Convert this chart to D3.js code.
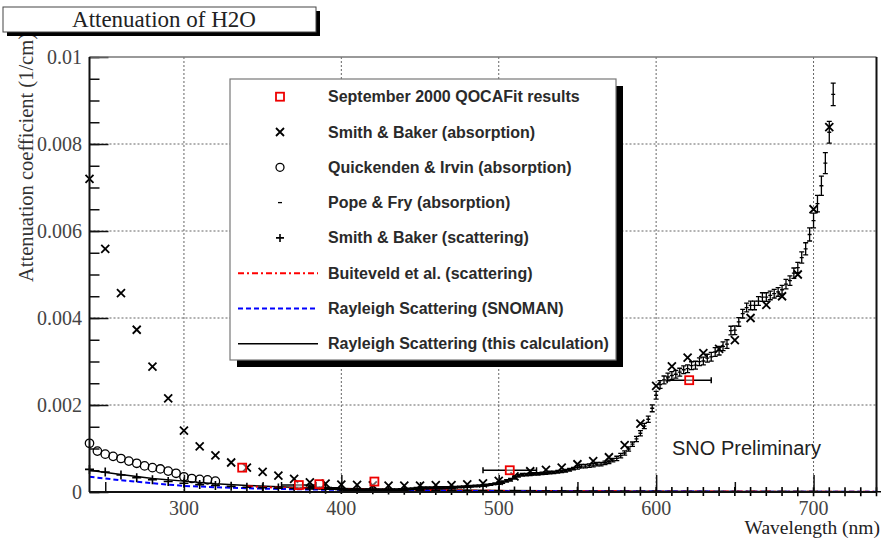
<!DOCTYPE html>
<html>
<head>
<meta charset="utf-8">
<script src="https://cdn.jsdelivr.net/npm/d3@7"></script>
<style>
  html, body { margin: 0; padding: 0; background: #fff; }
  svg { display: block; }
</style>
</head>
<body>
<svg id="chart" width="882" height="541"></svg>
<script>
// ---- data (attenuation in 1/cm, wavelength in nm) ----
const xTicks = [300, 400, 500, 600, 700];
const yTicks = [0, 0.002, 0.004, 0.006, 0.008, 0.01];
const yTickLabels = ["0", "0.002", "0.004", "0.006", "0.008", "0.01"];

// QOCAFit results: [wavelength, value, half-width in nm]
const qocaFit = [
  [337, 0.00056, 0], [373, 0.00016, 11], [386, 0.00018, 0],
  [421, 0.00024, 0], [507, 0.00050, 17], [621, 0.00257, 14]
];

// Smith & Baker absorption: [wavelength, value]
const smithBakerAbs = [
  [240, 0.00720], [250, 0.00559], [260, 0.00457], [270, 0.00373], [280, 0.00288],
  [290, 0.00215], [300, 0.00141], [310, 0.00105], [320, 0.000844], [330, 0.000678],
  [340, 0.000561], [350, 0.000463], [360, 0.000379], [370, 0.000300], [380, 0.000220],
  [390, 0.000191], [400, 0.000171], [410, 0.000162], [420, 0.000153], [430, 0.000144],
  [440, 0.000145], [450, 0.000145], [460, 0.000156], [470, 0.000156], [480, 0.000176],
  [490, 0.000196], [500, 0.000257], [510, 0.000357], [520, 0.000477], [530, 0.000507],
  [540, 0.000558], [550, 0.000638], [560, 0.000708], [570, 0.000799], [580, 0.00108],
  [590, 0.00157], [600, 0.00244], [610, 0.00289], [620, 0.00309], [630, 0.00319],
  [640, 0.00329], [650, 0.00349], [660, 0.00400], [670, 0.00430], [680, 0.00450],
  [690, 0.00500], [700, 0.00650], [710, 0.00839]
];

// Quickenden & Irvin absorption: [wavelength, value]
const quickendenIrvin = [
  [240, 0.00112], [245, 0.00094], [250, 0.00087], [255, 0.00082], [260, 0.00077],
  [265, 0.00071], [270, 0.00066], [275, 0.00060], [280, 0.00056], [285, 0.00053],
  [290, 0.00048], [295, 0.00043], [300, 0.00035], [305, 0.00031], [310, 0.00029],
  [315, 0.00028], [320, 0.00025]
];

// Pope & Fry absorption: [wavelength, value, error]
const popeFry = [
  [380, 0.000114, 0.00002], [382.5, 0.000104, 0.00002], [385, 0.000094, 0.00002], [387.5, 0.000092, 0.00002],
  [390, 0.000085, 0.00002], [392.5, 0.000083, 0.00002], [395, 0.000081, 0.00002], [397.5, 0.000078, 0.00002],
  [400, 0.000066, 0.00002], [402.5, 0.000058, 0.00002], [405, 0.000053, 0.00002], [407.5, 0.000050, 0.00002],
  [410, 0.000047, 0.00002], [412.5, 0.000045, 0.00002], [415, 0.000044, 0.00002], [417.5, 0.000044, 0.00002],
  [420, 0.000045, 0.00002], [422.5, 0.000047, 0.00002], [425, 0.000048, 0.00002], [427.5, 0.000048, 0.00002],
  [430, 0.000050, 0.00002], [432.5, 0.000050, 0.00002], [435, 0.000053, 0.00002], [437.5, 0.000058, 0.00002],
  [440, 0.000064, 0.00002], [442.5, 0.000070, 0.00002], [445, 0.000075, 0.00002], [447.5, 0.000083, 0.00002],
  [450, 0.000092, 0.00002], [452.5, 0.000097, 0.00002], [455, 0.000096, 0.00002], [457.5, 0.000096, 0.00002],
  [460, 0.000098, 0.00002], [462.5, 0.000101, 0.00002], [465, 0.000101, 0.00002], [467.5, 0.000102, 0.00002],
  [470, 0.000106, 0.00002], [472.5, 0.000109, 0.00002], [475, 0.000114, 0.00002], [477.5, 0.000121, 0.00002],
  [480, 0.000127, 0.00002], [482.5, 0.000131, 0.00002], [485, 0.000136, 0.00002], [487.5, 0.000144, 0.00002],
  [490, 0.000150, 0.00002], [492.5, 0.000162, 0.00002], [495, 0.000173, 0.00002], [497.5, 0.000191, 0.00002],
  [500, 0.000204, 0.00003], [502.5, 0.000228, 0.00003], [505, 0.000256, 0.00003], [507.5, 0.000280, 0.00003],
  [510, 0.000325, 0.00003], [512.5, 0.000372, 0.00003], [515, 0.000396, 0.00003], [517.5, 0.000399, 0.00003],
  [520, 0.000409, 0.00003], [522.5, 0.000416, 0.00003], [525, 0.000417, 0.00003], [527.5, 0.000428, 0.00003],
  [530, 0.000434, 0.00003], [532.5, 0.000447, 0.00003], [535, 0.000452, 0.00003], [537.5, 0.000466, 0.00003],
  [540, 0.000474, 0.00003], [542.5, 0.000489, 0.00003], [545, 0.000511, 0.00003], [547.5, 0.000537, 0.00003],
  [550, 0.000565, 0.00004], [552.5, 0.000593, 0.00004], [555, 0.000596, 0.00004], [557.5, 0.000606, 0.00004],
  [560, 0.000619, 0.00004], [562.5, 0.000640, 0.00004], [565, 0.000642, 0.00004], [567.5, 0.000672, 0.00004],
  [570, 0.000695, 0.00004], [572.5, 0.000733, 0.00004], [575, 0.000772, 0.00005], [577.5, 0.000836, 0.00005],
  [580, 0.000896, 0.00005], [582.5, 0.000989, 0.00005], [585, 0.001100, 0.00005], [587.5, 0.001220, 0.00006],
  [590, 0.001351, 0.00006], [592.5, 0.001516, 0.00006], [595, 0.001672, 0.00007], [597.5, 0.001925, 0.00008],
  [600, 0.002224, 0.00009], [602.5, 0.002470, 0.00009], [605, 0.002577, 0.00009], [607.5, 0.002644, 0.00009],
  [610, 0.002678, 0.00009], [612.5, 0.002707, 0.00009], [615, 0.002755, 0.00009], [617.5, 0.002810, 0.00009],
  [620, 0.002834, 0.00009], [622.5, 0.002904, 0.00009], [625, 0.002916, 0.00009], [627.5, 0.002995, 0.00009],
  [630, 0.003012, 0.00009], [632.5, 0.003077, 0.00009], [635, 0.003108, 0.00010], [637.5, 0.003220, 0.00010],
  [640, 0.003250, 0.00010], [642.5, 0.003350, 0.00010], [645, 0.003400, 0.00010], [647.5, 0.003710, 0.00010],
  [650, 0.003720, 0.00010], [652.5, 0.003910, 0.00010], [655, 0.004100, 0.00010], [657.5, 0.004240, 0.00010],
  [660, 0.004290, 0.00010], [662.5, 0.004290, 0.00010], [665, 0.004390, 0.00010], [667.5, 0.004480, 0.00010],
  [670, 0.004480, 0.00010], [672.5, 0.004520, 0.00010], [675, 0.004560, 0.00010], [677.5, 0.004600, 0.00010],
  [680, 0.004650, 0.00010], [682.5, 0.004780, 0.00011], [685, 0.004860, 0.00011], [687.5, 0.005030, 0.00012],
  [690, 0.005160, 0.00012], [692.5, 0.005390, 0.00013], [695, 0.005590, 0.00014], [697.5, 0.005920, 0.00015],
  [700, 0.006240, 0.00017], [702.5, 0.006630, 0.00019], [705, 0.007040, 0.00022], [707.5, 0.007560, 0.00024],
  [710, 0.008270, 0.00025], [712.5, 0.009140, 0.00026]
];

// Smith & Baker scattering: [wavelength, value]
const smithBakerScat = [
  [240, 0.00052], [250, 0.00046], [260, 0.00039], [270, 0.00033], [280, 0.00028],
  [290, 0.00024], [300, 0.00020], [310, 0.00017], [320, 0.00015], [330, 0.00013],
  [340, 0.00011], [350, 0.00010], [360, 0.00009], [370, 0.00008], [380, 0.00007],
  [390, 0.000065], [400, 0.00006], [410, 0.000055], [420, 0.00005], [430, 0.000045],
  [440, 0.000042], [450, 0.000039], [460, 0.000036], [470, 0.000033], [480, 0.000031],
  [490, 0.000029], [500, 0.000027], [510, 0.000025], [520, 0.000023], [530, 0.000022],
  [540, 0.00002], [550, 0.000019], [560, 0.000018], [570, 0.000017], [580, 0.000016],
  [590, 0.000015], [600, 0.000014], [610, 0.000013], [620, 0.000012], [630, 0.000012],
  [640, 0.000011], [650, 0.00001], [660, 0.00001], [670, 0.000009], [680, 0.000009],
  [690, 0.000008], [700, 0.000008], [710, 0.000007], [720, 0.000007], [730, 0.000007],
  [740, 0.000006]
];

// Buiteveld et al. scattering curve: [wavelength, value]
const buiteveld = [
  [340, 0.00013], [360, 0.00010], [380, 0.00008], [400, 0.000065], [450, 0.00004],
  [500, 0.000026], [550, 0.000018], [600, 0.000013], [650, 0.00001], [700, 0.000007],
  [740, 0.000006]
];

// Rayleigh scattering, SNOMAN: [wavelength, value]
const rayleighSnoman = [
  [240, 0.00035], [260, 0.00027], [280, 0.00020], [300, 0.00014], [320, 0.00011],
  [340, 0.000085], [360, 0.00007], [380, 0.000058], [400, 0.000048], [450, 0.00003],
  [500, 0.00002], [550, 0.000014], [600, 0.00001], [650, 0.000008], [700, 0.000006],
  [740, 0.000005]
];

// Rayleigh scattering, this calculation: [wavelength, value]
const rayleighCalc = [
  [240, 0.00050], [260, 0.00040], [280, 0.00031], [300, 0.00025], [320, 0.00019],
  [340, 0.00015], [360, 0.00012], [380, 0.0001], [400, 0.00008], [450, 0.00005],
  [500, 0.000033], [550, 0.000023], [600, 0.000016], [650, 0.000012], [700, 0.000009],
  [740, 0.000007]
];

const legendLabels = [
  "September 2000 QOCAFit results",
  "Smith & Baker (absorption)",
  "Quickenden & Irvin (absorption)",
  "Pope & Fry (absorption)",
  "Smith & Baker (scattering)",
  "Buiteveld et al. (scattering)",
  "Rayleigh Scattering (SNOMAN)",
  "Rayleigh Scattering (this calculation)"
];

// ---- layout ----
const SERIF = "'Liberation Serif', 'Times New Roman', serif";
const SANS = "'Liberation Sans', Arial, Helvetica, sans-serif";
const svg = d3.select("#chart");
const plot = { left: 89.5, right: 876.5, top: 57, bottom: 492 };

const x = d3.scaleLinear().domain([240, 740]).range([plot.left, plot.right]);
const y = d3.scaleLinear().domain([0, 0.01]).range([plot.bottom, plot.top]);

svg.append("defs").append("clipPath").attr("id", "plotClip")
  .append("rect")
  .attr("x", plot.left).attr("y", plot.top)
  .attr("width", plot.right - plot.left).attr("height", plot.bottom - plot.top);

// ---- grid ----
const grid = svg.append("g").attr("stroke", "#333").attr("stroke-width", 1)
  .attr("stroke-dasharray", "2,2").attr("opacity", 0.75);
xTicks.forEach(t => grid.append("line")
  .attr("x1", x(t)).attr("x2", x(t)).attr("y1", plot.top).attr("y2", plot.bottom));
yTicks.filter(t => t > 0 && t < 0.01).forEach(t => grid.append("line")
  .attr("x1", plot.left).attr("x2", plot.right).attr("y1", y(t)).attr("y2", y(t)));

// ---- axes (ticks drawn inside the frame) ----
const yAxis = d3.axisLeft(y).tickValues(yTicks).tickSize(-19).tickFormat(() => "");
const yMinor = d3.axisLeft(y).tickValues(d3.range(0, 0.01001, 0.0005)).tickSize(-10).tickFormat(() => "");
const xAxis = d3.axisBottom(x).tickValues(xTicks).tickSize(-17).tickFormat(() => "");
const xMinor = d3.axisBottom(x).tickValues([250, 350, 450, 550, 650]).tickSize(-10).tickFormat(() => "");

[yAxis, yMinor].forEach(ax => {
  const g = svg.append("g").attr("transform", `translate(${plot.left},0)`).call(ax);
  g.select(".domain").remove();
  g.selectAll("line").attr("stroke", "#111").attr("stroke-width", 1.5);
});
[xAxis, xMinor].forEach(ax => {
  const g = svg.append("g").attr("transform", `translate(0,${plot.bottom})`).call(ax);
  g.select(".domain").remove();
  g.selectAll("line").attr("stroke", "#111").attr("stroke-width", 1.5);
});

// tick labels
svg.append("g").selectAll("text").data(yTicks).join("text")
  .attr("x", 82).attr("y", d => y(d) + 6.5)
  .attr("text-anchor", "end").attr("font-family", SERIF).attr("font-size", 20)
  .attr("fill", "#444")
  .text((d, i) => yTickLabels[i]);
svg.append("g").selectAll("text").data(xTicks).join("text")
  .attr("x", d => x(d)).attr("y", 515)
  .attr("text-anchor", "middle").attr("font-family", SERIF).attr("font-size", 20)
  .attr("fill", "#444")
  .text(d => d);

// axis titles
svg.append("text")
  .attr("transform", "translate(33,33) rotate(-90)")
  .attr("text-anchor", "end").attr("font-family", SERIF).attr("font-size", 20.5)
  .attr("fill", "#333")
  .text("Attenuation coefficient (1/cm)");
svg.append("text")
  .attr("x", 880).attr("y", 534)
  .attr("text-anchor", "end").attr("font-family", SERIF).attr("font-size", 19.5)
  .attr("fill", "#222")
  .text("Wavelength (nm)");

// ---- curves ----
const curves = svg.append("g").attr("clip-path", "url(#plotClip)").attr("fill", "none");
const line = d3.line().x(d => x(d[0])).y(d => y(d[1]));
curves.append("path").datum(rayleighCalc).attr("d", line)
  .attr("stroke", "#000").attr("stroke-width", 1.5);
curves.append("path").datum(buiteveld).attr("d", line)
  .attr("stroke", "#ff0000").attr("stroke-width", 2).attr("stroke-dasharray", "6,3,2,3");
curves.append("path").datum(rayleighSnoman).attr("d", line)
  .attr("stroke", "#0000ff").attr("stroke-width", 2).attr("stroke-dasharray", "5,3");

// ---- marker helpers ----
function crossPath(cx, cy, s) {
  return `M${cx - s},${cy - s}L${cx + s},${cy + s}M${cx - s},${cy + s}L${cx + s},${cy - s}`;
}
function plusPath(cx, cy, s) {
  return `M${cx - s},${cy}L${cx + s},${cy}M${cx},${cy - s}L${cx},${cy + s}`;
}

const marks = svg.append("g");

// Smith & Baker scattering (+)
marks.append("g").selectAll("path").data(smithBakerScat).join("path")
  .attr("d", d => plusPath(x(d[0]), y(d[1]), 4.5))
  .attr("stroke", "#000").attr("stroke-width", 1.6).attr("fill", "none");

// Pope & Fry (-) with vertical error bars
const pf = marks.append("g").attr("stroke", "#000").attr("stroke-width", 1.3).attr("fill", "none");
pf.selectAll("path").data(popeFry.filter(d => d[1] <= 0.01)).join("path")
  .attr("d", d => {
    const cx = x(d[0]), cy = y(d[1]);
    const y1 = y(d[1] + d[2]), y2 = y(d[1] - d[2]);
    return `M${cx},${y1}L${cx},${y2}M${cx - 2.5},${y1}L${cx + 2.5},${y1}` +
      `M${cx - 2.5},${y2}L${cx + 2.5},${y2}M${cx - 2},${cy}L${cx + 2},${cy}`;
  });

// Quickenden & Irvin (o)
marks.append("g").selectAll("circle").data(quickendenIrvin).join("circle")
  .attr("cx", d => x(d[0])).attr("cy", d => y(d[1])).attr("r", 4.2)
  .attr("stroke", "#000").attr("stroke-width", 1.3).attr("fill", "none");

// Smith & Baker absorption (x)
marks.append("g").selectAll("path").data(smithBakerAbs).join("path")
  .attr("d", d => crossPath(x(d[0]), y(d[1]), 4))
  .attr("stroke", "#000").attr("stroke-width", 1.8).attr("fill", "none");

// QOCAFit results (red squares, horizontal error bars)
const qf = marks.append("g");
qf.selectAll("line").data(qocaFit.filter(d => d[2] > 0)).join("line")
  .attr("x1", d => x(d[0] - d[2])).attr("x2", d => x(d[0] + d[2]))
  .attr("y1", d => y(d[1])).attr("y2", d => y(d[1]))
  .attr("stroke", "#000").attr("stroke-width", 1.5);
qf.selectAll("path.cap").data(qocaFit.filter(d => d[2] > 0)).join("path").attr("class", "cap")
  .attr("d", d => {
    const x1 = x(d[0] - d[2]), x2 = x(d[0] + d[2]), cy = y(d[1]);
    return `M${x1},${cy - 3}L${x1},${cy + 3}M${x2},${cy - 3}L${x2},${cy + 3}`;
  })
  .attr("stroke", "#000").attr("stroke-width", 1.5);
qf.selectAll("rect").data(qocaFit).join("rect")
  .attr("x", d => x(d[0]) - 4).attr("y", d => y(d[1]) - 4)
  .attr("width", 8).attr("height", 8)
  .attr("fill", "#fff").attr("fill-opacity", 0.4)
  .attr("stroke", "#ee0000").attr("stroke-width", 1.8);

// ---- frame ----
const frame = svg.append("g").attr("fill", "none");
frame.append("line").attr("x1", plot.left).attr("x2", plot.right).attr("y1", plot.top).attr("y2", plot.top)
  .attr("stroke", "#777").attr("stroke-width", 1.5);
frame.append("line").attr("x1", plot.right).attr("x2", plot.right).attr("y1", plot.top).attr("y2", plot.bottom)
  .attr("stroke", "#111").attr("stroke-width", 2);
frame.append("line").attr("x1", plot.left).attr("x2", plot.left).attr("y1", plot.top).attr("y2", plot.bottom)
  .attr("stroke", "#111").attr("stroke-width", 2);
frame.append("line").attr("x1", plot.left).attr("x2", plot.right).attr("y1", plot.bottom).attr("y2", plot.bottom)
  .attr("stroke", "#111").attr("stroke-width", 2);

// ---- SNO Preliminary ----
svg.append("text")
  .attr("x", 672).attr("y", 455)
  .attr("font-family", SANS).attr("font-size", 20).attr("fill", "#222")
  .text("SNO Preliminary");

// ---- legend ----
const lg = { x: 230, y: 79, w: 386, h: 281 };
svg.append("rect").attr("x", lg.x + 7).attr("y", lg.y + 7).attr("width", lg.w).attr("height", lg.h)
  .attr("fill", "#000");
svg.append("rect").attr("x", lg.x).attr("y", lg.y).attr("width", lg.w).attr("height", lg.h)
  .attr("fill", "#fff").attr("stroke", "#777").attr("stroke-width", 1.2);

const rowY = i => 96.7 + i * 35.3;
const mx = 280;
const legG = svg.append("g");
legG.append("rect").attr("x", mx - 4).attr("y", rowY(0) - 4).attr("width", 8).attr("height", 8)
  .attr("fill", "none").attr("stroke", "#ee0000").attr("stroke-width", 1.8);
legG.append("path").attr("d", crossPath(mx, rowY(1), 4)).attr("stroke", "#000").attr("stroke-width", 1.8);
legG.append("circle").attr("cx", mx).attr("cy", rowY(2)).attr("r", 4).attr("fill", "none")
  .attr("stroke", "#000").attr("stroke-width", 1.3);
legG.append("path").attr("d", `M${mx - 2},${rowY(3)}L${mx + 2},${rowY(3)}`).attr("stroke", "#000").attr("stroke-width", 1.3);
legG.append("path").attr("d", plusPath(mx, rowY(4), 4)).attr("stroke", "#000").attr("stroke-width", 1.6);
legG.append("line").attr("x1", 238).attr("x2", 318).attr("y1", rowY(5)).attr("y2", rowY(5))
  .attr("stroke", "#ff0000").attr("stroke-width", 2).attr("stroke-dasharray", "6,3,2,3");
legG.append("line").attr("x1", 238).attr("x2", 318).attr("y1", rowY(6)).attr("y2", rowY(6))
  .attr("stroke", "#0000ff").attr("stroke-width", 2).attr("stroke-dasharray", "5,3");
legG.append("line").attr("x1", 238).attr("x2", 318).attr("y1", rowY(7)).attr("y2", rowY(7))
  .attr("stroke", "#000").attr("stroke-width", 1.5);

legG.selectAll("text").data(legendLabels).join("text")
  .attr("x", 328).attr("y", (d, i) => rowY(i) + 5.5)
  .attr("font-family", SANS).attr("font-size", 16).attr("font-weight", "bold")
  .attr("fill", "#2a2a2a")
  .text(d => d);

// ---- title box ----
svg.append("rect").attr("x", 7).attr("y", 11).attr("width", 313).attr("height", 25).attr("fill", "#000");
svg.append("rect").attr("x", 3).attr("y", 7).attr("width", 313).attr("height", 25)
  .attr("fill", "#fff").attr("stroke", "#444").attr("stroke-width", 1);
svg.append("text")
  .attr("x", 164).attr("y", 27)
  .attr("text-anchor", "middle").attr("font-family", SERIF).attr("font-size", 23)
  .attr("fill", "#222")
  .text("Attenuation of H2O");
</script>
</body>
</html>
